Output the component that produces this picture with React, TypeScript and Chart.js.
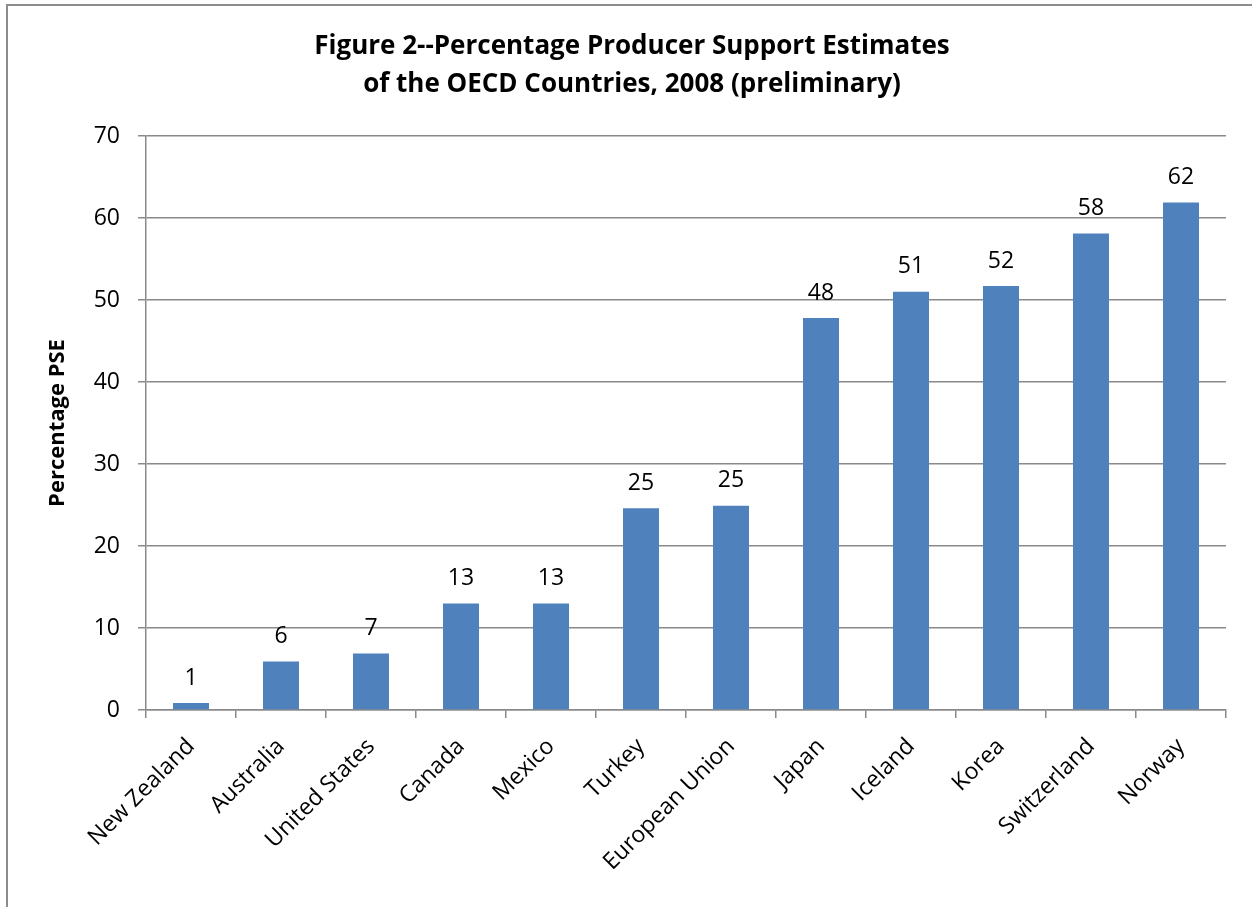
import React, { useEffect, useRef } from "react";
import { Chart, registerables } from "chart.js";

Chart.register(...registerables);

const categories = [
  "New Zealand",
  "Australia",
  "United States",
  "Canada",
  "Mexico",
  "Turkey",
  "European Union",
  "Japan",
  "Iceland",
  "Korea",
  "Switzerland",
  "Norway",
];
const pseValues = [0.85, 5.9, 6.9, 13.0, 13.0, 24.6, 24.9, 47.8, 51.0, 51.7, 58.1, 61.9];
const valueLabels = ["1", "6", "7", "13", "13", "25", "25", "48", "51", "52", "58", "62"];
const yTicks = [0, 10, 20, 30, 40, 50, 60, 70];
const titleLines = [
  "Figure 2--Percentage Producer Support Estimates",
  "of the OECD Countries, 2008 (preliminary)",
];
const yAxisTitle = "Percentage PSE";

const FONT = "'Open Sans', Lato, sans-serif";

export default function App() {
  const ref = useRef<HTMLCanvasElement | null>(null);

  useEffect(() => {
    if (!ref.current) return;

    const decor = {
      id: "decor",
      beforeDraw(chart: any) {
        const ctx = chart.ctx;
        ctx.save();
        ctx.fillStyle = "#ffffff";
        ctx.fillRect(0, 0, chart.width, chart.height);
        ctx.strokeStyle = "#8c8c8c";
        ctx.lineWidth = 2;
        ctx.beginPath();
        ctx.moveTo(7, chart.height);
        ctx.lineTo(7, 5);
        ctx.lineTo(chart.width, 5);
        ctx.stroke();
        ctx.restore();
      },
      afterDraw(chart: any) {
        const ctx = chart.ctx;
        ctx.save();
        ctx.fillStyle = "#000000";
        ctx.textAlign = "center";
        ctx.textBaseline = "middle";
        ctx.font = `bold 26px ${FONT}`;
        ctx.fillText(titleLines[0], 632, 47);
        ctx.fillText(titleLines[1], 632, 85);
        ctx.translate(58, 423);
        ctx.rotate(-Math.PI / 2);
        ctx.font = `bold 22px ${FONT}`;
        ctx.fillText(yAxisTitle, 0, 0);
        ctx.restore();
      },
      afterDatasetsDraw(chart: any) {
        const ctx = chart.ctx;
        const meta = chart.getDatasetMeta(0);
        ctx.save();
        ctx.fillStyle = "#000000";
        ctx.textAlign = "center";
        ctx.textBaseline = "middle";
        ctx.font = `23px ${FONT}`;
        meta.data.forEach((bar: any, i: number) => {
          ctx.fillText(valueLabels[i], bar.x, bar.y - 25);
        });
        ctx.restore();
      },
    };

    const chart = new Chart(ref.current, {
      type: "bar",
      data: {
        labels: categories,
        datasets: [
          {
            data: pseValues,
            backgroundColor: "#4F81BD",
            borderWidth: 0,
            categoryPercentage: 1,
            barPercentage: 0.4,
          },
        ],
      },
      options: {
        animation: false,
        responsive: false,
        maintainAspectRatio: false,
        layout: { padding: { top: 136, right: 26, left: 0, bottom: 0 } },
        plugins: {
          legend: { display: false },
          title: { display: false },
          tooltip: { enabled: false },
        },
        scales: {
          x: {
            afterFit: (scale: any) => {
              scale.height = 197;
            },
            grid: {
              display: true,
              drawOnChartArea: false,
              drawTicks: true,
              tickLength: 8,
              color: "#8a8a8a",
              lineWidth: 1.5,
              offset: true,
            },
            border: { display: true, color: "#8a8a8a", width: 1.5 },
            ticks: {
              autoSkip: false,
              maxRotation: 45,
              minRotation: 45,
              padding: 15,
              color: "#000000",
              font: { family: FONT, size: 23 },
            },
          },
          y: {
            min: 0,
            max: 70,
            afterFit: (scale: any) => {
              scale.width = 146;
            },
            afterBuildTicks: (scale: any) => {
              scale.ticks = yTicks.map((v) => ({ value: v }));
            },
            grid: {
              color: "#8a8a8a",
              lineWidth: 1.5,
              drawTicks: true,
              tickLength: 8,
            },
            border: { display: true, color: "#8a8a8a", width: 1.5 },
            ticks: {
              padding: 18,
              color: "#000000",
              font: { family: FONT, size: 23 },
            },
          },
        },
      },
      plugins: [decor],
    });

    return () => chart.destroy();
  }, []);

  return (
    <canvas
      ref={ref}
      width={1252}
      height={907}
      style={{ position: "absolute", left: 0, top: 0, width: 1252, height: 907 }}
    />
  );
}
